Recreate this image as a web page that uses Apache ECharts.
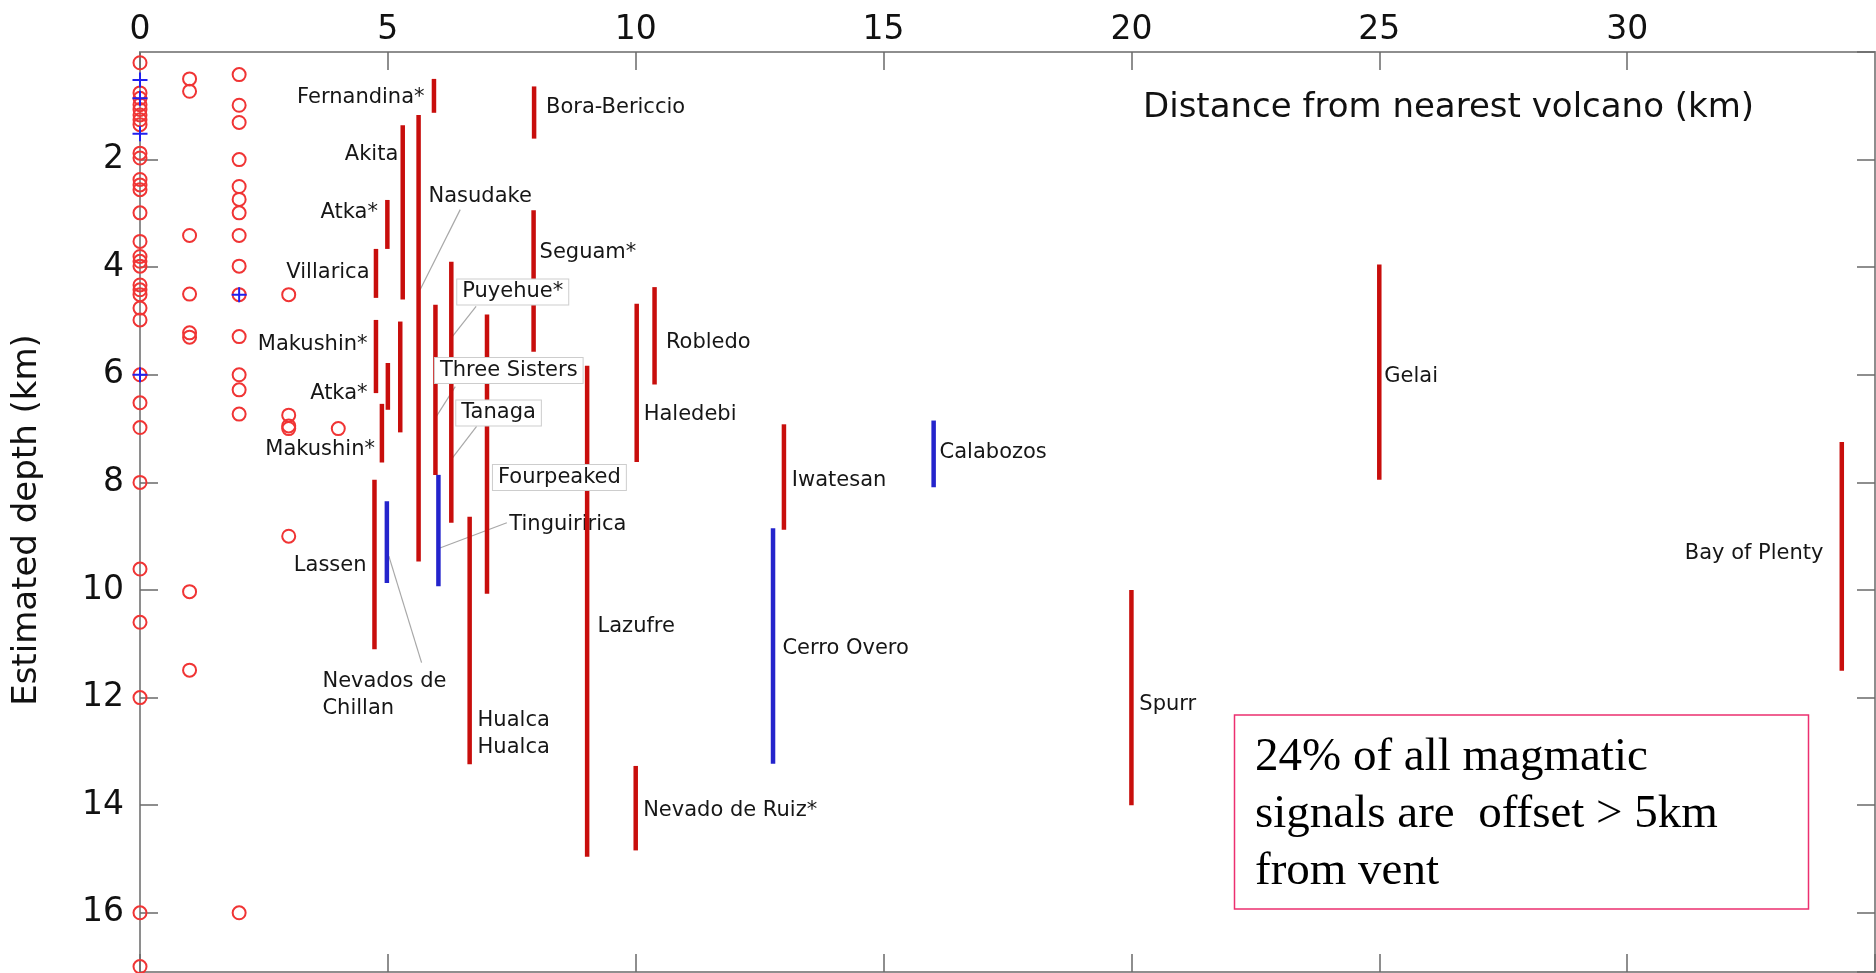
<!DOCTYPE html>
<html>
<head>
<meta charset="utf-8">
<script src="https://cdn.jsdelivr.net/npm/echarts@6/dist/echarts.min.js"></script>
<style>
  html, body { margin: 0; padding: 0; background: #fff; }
  #chart { width: 1876px; height: 973px; }
</style>
</head>
<body>
<div id="chart"></div>
<script>
// ---- Point estimates (open circles), depth in km, grouped by distance column ----
const depthsAt0km = [0.2, 0.76, 0.86, 0.98, 1.07, 1.17, 1.26, 1.35, 1.88, 1.97, 2.37, 2.47, 2.56, 2.99,
  3.52, 3.80, 3.89, 3.98, 4.33, 4.42, 4.51, 4.76, 4.98, 6.0, 6.52, 6.98, 8.0, 9.61, 10.6, 12.0, 16.0, 17.0];
const depthsAt1km = [0.5, 0.73, 3.41, 4.5, 5.22, 5.3, 10.03, 11.49];
const depthsAt2km = [0.42, 0.99, 1.31, 2.0, 2.5, 2.74, 2.99, 3.41, 3.98, 4.51, 5.29, 6.0, 6.28, 6.73, 16.0];
const depthsAt3km = [4.51, 6.75, 6.95, 7.0, 9.0];
const depthsAt4km = [7.0];

// ---- Blue crosses ----
const crossDist = [0, 0, 0, 0, 2];
const crossDepth = [0.52, 0.86, 1.52, 6.0, 4.51];

// ---- Depth ranges drawn as red bars ----
const redNames = ['Fernandina*', 'Bora-Bericcio', 'Akita', 'Nasudake', 'Atka*', 'Villarica', 'Seguam*',
  'Puyehue*', 'Tanaga', 'Three Sisters', 'Fourpeaked', 'Makushin*', 'Atka*', '', 'Makushin*', 'Lassen',
  'Hualca\nHualca', 'Lazufre', 'Haledebi', 'Robledo', 'Iwatesan', 'Nevado de Ruiz*', 'Spurr', 'Gelai',
  'Bay of Plenty'];
const redDist = [5.93, 7.95, 5.30, 5.62, 4.99, 4.76, 7.94, 6.28, 6.28, 5.96, 7.00, 4.76, 5.00, 5.25, 4.88,
  4.73, 6.65, 9.02, 10.02, 10.38, 12.99, 10.00, 20.00, 25.00, 34.33];
const redTop = [0.50, 0.64, 1.36, 1.17, 2.75, 3.66, 2.94, 3.90, 6.30, 4.70, 4.88, 4.98, 5.78, 5.01, 6.54,
  7.95, 8.64, 5.83, 4.68, 4.37, 6.92, 13.27, 10.00, 3.95, 7.25];
const redBottom = [1.13, 1.61, 4.60, 9.47, 3.66, 4.57, 5.57, 6.30, 8.75, 7.86, 10.07, 6.34, 6.65, 7.07, 7.63,
  11.10, 13.24, 14.96, 7.62, 6.18, 8.88, 14.84, 14.00, 7.95, 11.50];

// ---- Depth ranges drawn as blue bars ----
const blueNames = ['Nevados de\nChillan', 'Tinguiririca', 'Calabozos', 'Cerro Overo'];
const blueDist = [4.98, 6.02, 16.01, 12.77];
const blueTop = [8.35, 7.86, 6.85, 8.85];
const blueBottom = [9.87, 9.93, 8.09, 13.23];

// ---- Axis ticks ----
const distTicks = [0, 5, 10, 15, 20, 25, 30];
const depthTicks = [2, 4, 6, 8, 10, 12, 14, 16];

// ---- Label placement (distance km, depth km, text alignment), red names then blue names ----
const labelPlace = [
  [5.74, 0.84, 'right'], [8.19, 1.04, 'left'], [5.21, 1.91, 'right'], [5.82, 2.68, 'left'],
  [4.80, 2.99, 'right'], [4.63, 4.10, 'right'], [8.06, 3.72, 'left'], [6.40, 4.46, 'left'],
  [6.38, 6.71, 'left'], [5.95, 5.92, 'left'], [7.12, 7.91, 'left'], [4.59, 5.44, 'right'],
  [4.59, 6.34, 'right'], null, [4.74, 7.38, 'right'], [4.57, 9.55, 'right'],
  [6.81, 12.68, 'left'], [9.23, 10.68, 'left'], [10.16, 6.74, 'left'], [10.61, 5.40, 'left'],
  [13.15, 7.97, 'left'], [10.15, 14.10, 'left'], [20.16, 12.13, 'left'], [25.10, 6.04, 'left'],
  [33.96, 9.33, 'right'],
  [3.68, 11.96, 'left'], [7.45, 8.79, 'left'], [16.13, 7.45, 'left'], [12.96, 11.08, 'left']
];
const boxedNames = ['Puyehue*', 'Three Sisters', 'Tanaga', 'Fourpeaked'];

// Leader lines: [fromDist, fromDepth, toDist, toDepth]
const leaderLines = [
  [6.46, 2.93, 5.65, 4.42],
  [6.78, 4.73, 6.30, 5.29],
  [6.36, 6.22, 5.96, 6.80],
  [6.79, 6.96, 6.30, 7.55],
  [7.40, 8.75, 6.05, 9.22],
  [5.02, 9.37, 5.68, 11.35]
];

const noteLines = ['24% of all magmatic', 'signals are  offset > 5km', 'from vent'];

// ---- Build series data ----
const circleData = [];
[[0, depthsAt0km], [1, depthsAt1km], [2, depthsAt2km], [3, depthsAt3km], [4, depthsAt4km]].forEach(([d, arr]) => {
  arr.forEach(z => circleData.push([d, z]));
});
const crossData = crossDist.map((d, i) => [d, crossDepth[i]]);
const redBars = redDist.map((d, i) => [d, redTop[i], redBottom[i]]);
const blueBars = blueDist.map((d, i) => [d, blueTop[i], blueBottom[i]]);

const allNames = redNames.concat(blueNames);
const plainLabels = [];
const boxedLabels = [];
allNames.forEach((n, i) => {
  const p = labelPlace[i];
  if (!p || !n) return;
  const item = { value: [p[0], p[1]], text: n, align: p[2] };
  (boxedNames.indexOf(n) >= 0 ? boxedLabels : plainLabels).push(item);
});

const FONT = 'DejaVu Sans';
const RED = '#c80e0c';
const BLUE = '#2424cc';

function barRenderer(color) {
  return function (params, api) {
    const a = api.coord([api.value(0), api.value(1)]);
    const b = api.coord([api.value(0), api.value(2)]);
    return {
      type: 'line',
      shape: { x1: a[0], y1: a[1], x2: b[0], y2: b[1] },
      style: { stroke: color, lineWidth: 4.5, lineCap: 'butt' }
    };
  };
}

function labelRenderer(items, boxed) {
  return function (params, api) {
    const it = items[params.dataIndex];
    const p = api.coord(it.value);
    const style = {
      text: it.text, fill: '#161616', fontSize: 21, fontFamily: FONT,
      align: it.align, verticalAlign: 'middle', lineHeight: 27
    };
    if (boxed) {
      style.backgroundColor = '#ffffff';
      style.borderColor = '#cdcdcd';
      style.borderWidth = 1;
      style.padding = [1, 5];
      style.lineHeight = 23;
    }
    return { type: 'text', x: p[0], y: p[1], style: style };
  };
}

const axisLineStyle = { show: true, onZero: false, lineStyle: { color: '#8e8e8e', width: 2 } };
const axisTickStyle = { show: true, inside: true, length: 18, lineStyle: { color: '#6a6a6a', width: 1.5 } };

const chart = echarts.init(document.getElementById('chart'), null, { renderer: 'canvas' });
chart.setOption({
  animation: false,
  backgroundColor: '#ffffff',
  grid: { left: 140, right: 1, top: 52, bottom: 1, containLabel: false, outerBoundsMode: 'none' },
  xAxis: [
    {
      type: 'value', position: 'top', min: 0, max: 35, interval: 5,
      axisLine: axisLineStyle, axisTick: axisTickStyle, splitLine: { show: false },
      axisLabel: {
        fontSize: 33, fontFamily: FONT, color: '#111', margin: 5, showMaxLabel: false,
        formatter: v => (distTicks.indexOf(v) >= 0 ? String(v) : '')
      }
    },
    {
      type: 'value', position: 'bottom', min: 0, max: 35, interval: 5,
      axisLine: axisLineStyle, axisTick: axisTickStyle, splitLine: { show: false },
      axisLabel: { show: false }
    }
  ],
  yAxis: [
    {
      type: 'value', position: 'left', inverse: true, min: 0, max: 17.1, interval: 2,
      axisLine: axisLineStyle, axisTick: axisTickStyle, splitLine: { show: false },
      axisLabel: {
        fontSize: 33, fontFamily: FONT, color: '#111', margin: 16,
        showMinLabel: false, showMaxLabel: false,
        formatter: v => (depthTicks.indexOf(v) >= 0 ? String(v) : '')
      }
    },
    {
      type: 'value', position: 'right', inverse: true, min: 0, max: 17.1, interval: 2,
      axisLine: axisLineStyle, axisTick: axisTickStyle, splitLine: { show: false },
      axisLabel: { show: false }
    }
  ],
  series: [
    {
      type: 'custom', name: 'leaders', silent: true, z: 1,
      encode: { x: [0, 2], y: [1, 3] },
      data: leaderLines,
      renderItem: function (params, api) {
        const a = api.coord([api.value(0), api.value(1)]);
        const b = api.coord([api.value(2), api.value(3)]);
        return { type: 'line', shape: { x1: a[0], y1: a[1], x2: b[0], y2: b[1] },
          style: { stroke: '#a8a8a8', lineWidth: 1.2 } };
      }
    },
    {
      type: 'custom', name: 'labels', silent: true, z: 2,
      encode: { x: 0, y: 1 }, data: plainLabels,
      renderItem: labelRenderer(plainLabels, false)
    },
    {
      type: 'custom', name: 'red ranges', silent: true, z: 3,
      encode: { x: 0, y: [1, 2] }, data: redBars, renderItem: barRenderer(RED)
    },
    {
      type: 'custom', name: 'blue ranges', silent: true, z: 3,
      encode: { x: 0, y: [1, 2] }, data: blueBars, renderItem: barRenderer(BLUE)
    },
    {
      type: 'scatter', name: 'circles', silent: true, z: 4,
      symbol: 'circle', symbolSize: 13, data: circleData,
      itemStyle: { color: 'rgba(0,0,0,0)', borderColor: '#f03434', borderWidth: 2, opacity: 1 }
    },
    {
      type: 'scatter', name: 'crosses', silent: true, z: 5,
      symbol: 'path://M5,0 L5,10 M0,5 L10,5', symbolSize: 15, data: crossData,
      itemStyle: { color: 'none', borderColor: '#2020f0', borderWidth: 2, opacity: 1 }
    },
    {
      type: 'custom', name: 'boxed labels', silent: true, z: 6,
      encode: { x: 0, y: 1 }, data: boxedLabels,
      renderItem: labelRenderer(boxedLabels, true)
    }
  ],
  graphic: [
    {
      type: 'text', x: 27, y: 520, rotation: Math.PI / 2, z: 10,
      style: { text: 'Estimated depth (km)', fontSize: 34, fontFamily: FONT, fill: '#111',
        align: 'center', verticalAlign: 'middle' }
    },
    {
      type: 'text', x: 1143, y: 108, z: 10,
      style: { text: 'Distance from nearest volcano (km)', fontSize: 34, fontFamily: FONT,
        fill: '#111', verticalAlign: 'middle' }
    },
    {
      type: 'rect', z: 10,
      shape: { x: 1234.5, y: 715, width: 574, height: 194 },
      style: { fill: '#ffffff', stroke: '#ec2f6f', lineWidth: 1.5 }
    },
    {
      type: 'text', x: 1255, y: 729, z: 11,
      style: { text: noteLines.join('\n'), fontSize: 47, fontFamily: 'Liberation Serif',
        fill: '#000', lineHeight: 57, verticalAlign: 'top' }
    }
  ]
});
</script>
</body>
</html>
